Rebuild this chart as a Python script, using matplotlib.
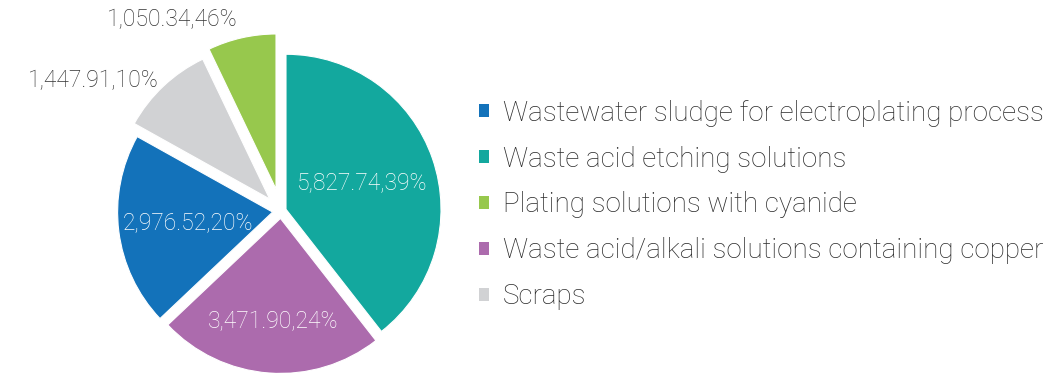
import matplotlib
matplotlib.use("Agg")
import matplotlib.pyplot as plt
import numpy as np

# Hazardous waste volumes by category (clockwise from 12 o'clock)
categories = [
    "Waste acid etching solutions",
    "Waste acid/alkali solutions containing copper",
    "Wastewater sludge for electroplating process",
    "Scraps",
    "Plating solutions with cyanide",
]
values = [5827.74, 3471.90, 2976.52, 1447.91, 1050.34]
pct_labels = ["39%", "24%", "20%", "10%", "46%"]
colors = ["#13A89E", "#AC6BAD", "#1372BA", "#D1D2D4", "#97C84D"]
legend_order = [2, 0, 4, 1, 3]

FONT = ["Roboto", "DejaVu Sans"]
plt.rcParams["font.family"] = FONT

W, H, DPI = 1064, 373, 100
R_PX = 155.0          # pie radius in pixels
CX, CY = 281.0, 211.0  # pie centre in pixels (from top-left)

fig = plt.figure(figsize=(W / DPI, H / DPI), dpi=DPI)
ax = fig.add_axes([0, 0, 1, 1])

# each slice pushed out so its straight edges clear neighbours by the same gap
fracs = np.array(values) / sum(values)
half = np.pi * fracs
gap = 5.0 / R_PX
explode = gap / np.sin(half)

wedges, _ = ax.pie(
    values,
    colors=colors,
    startangle=90,
    counterclock=False,
    explode=explode,
    radius=1.0,
    wedgeprops=dict(edgecolor="white", linewidth=0.8),
)

ax.set_aspect("equal")
ax.set_xlim(-CX / R_PX, (W - CX) / R_PX)
ax.set_ylim(-(H - CY) / R_PX, CY / R_PX)
ax.axis("off")

# value labels: inside for large slices, outside for the two small ones
inside_dist = [0.52, 0.67, 0.55, None, None]
outside_dist = [None, None, None, 1.05, 1.12]
for i, w in enumerate(wedges):
    theta = np.deg2rad((w.theta1 + w.theta2) / 2)
    cx, cy = w.center
    txt = f"{values[i]:,.2f},{pct_labels[i]}"
    if inside_dist[i] is not None:
        d = inside_dist[i]
        ax.text(cx + d * np.cos(theta), cy + d * np.sin(theta), txt,
                ha="center", va="center", color="white",
                fontsize=16.5, fontweight="light")
    else:
        d = outside_dist[i]
        ax.text(cx + d * np.cos(theta), cy + d * np.sin(theta), txt,
                ha="right", va="center", color="#333333",
                fontsize=16.5, fontweight="light")

leg = ax.legend(
    [wedges[k] for k in legend_order],
    [categories[k] for k in legend_order],
    loc="center left",
    bbox_to_anchor=(479 / W, 1 - 205 / H),
    bbox_transform=fig.transFigure,
    frameon=False,
    fontsize=20,
    handlelength=0.36,
    handleheight=0.36,
    handletextpad=0.5,
    labelspacing=0.68,
    borderpad=0,
    borderaxespad=0,
)
for t in leg.get_texts():
    t.set_color("#2b2b2b")
    t.set_fontweight("light")
for h in leg.legend_handles:
    h.set_edgecolor("none")

fig.savefig("out.png", dpi=DPI)
